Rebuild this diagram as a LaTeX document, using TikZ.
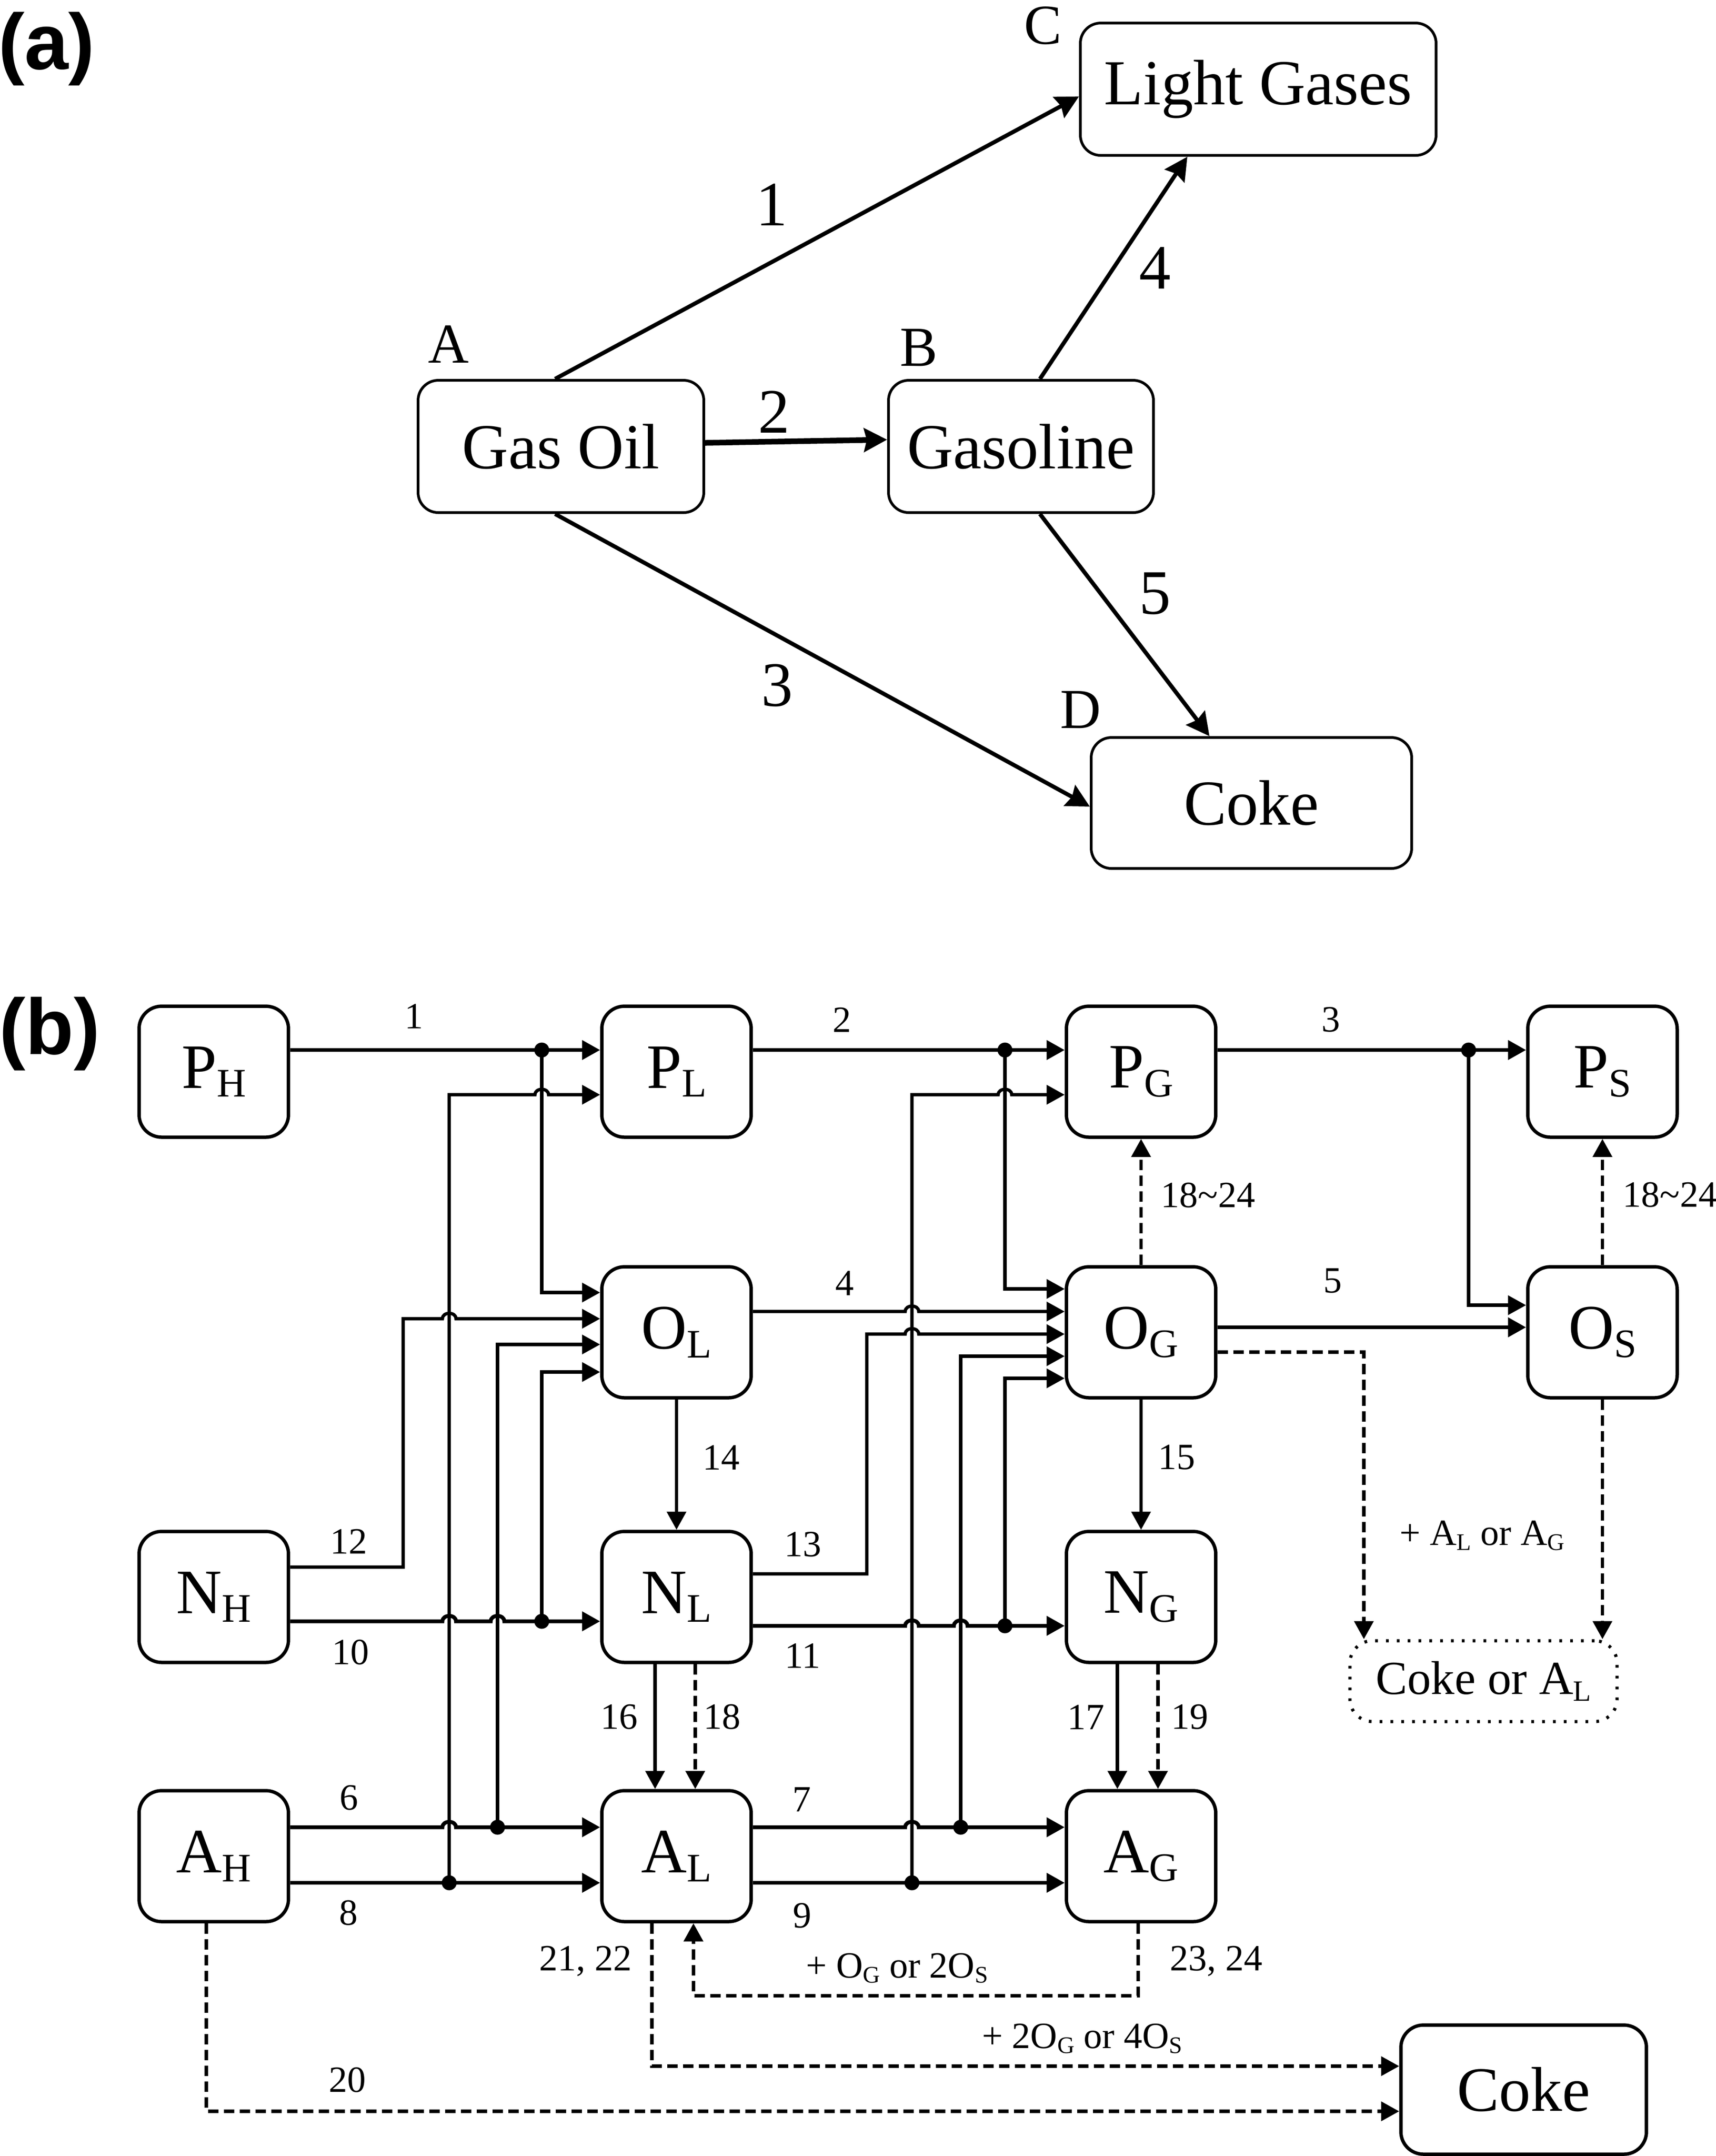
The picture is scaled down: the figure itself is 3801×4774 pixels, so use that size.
\documentclass[tikz,border=0pt]{standalone}
\usepackage{fontspec}
\setmainfont{Liberation Serif}
\newfontfamily\hdfont{Liberation Sans}
\usepackage{graphicx}
\usetikzlibrary{arrows.meta}
\newcommand\sbx[2][0.64]{\raisebox{-0.14em}{\scalebox{#1}{#2}}}
\newcommand\jmp[2]{-- (#1-15,#2) .. controls (#1-15,#2-16) and (#1+15,#2-16) .. (#1+15,#2)}
\tikzset{
 boxa/.style={draw, line width=0.6pt, rounded corners=4.5pt, minimum height=29.3pt, inner sep=0pt, font=\fontsize{14.2}{16}\selectfont},
 boxb/.style={draw, line width=0.75pt, rounded corners=5pt, minimum width=33.1pt, minimum height=29pt, inner sep=0pt, font=\fontsize{14}{16}\selectfont},
 lbla/.style={font=\fontsize{14}{16}\selectfont, inner sep=0pt},
 lett/.style={font=\fontsize{12.5}{14}\selectfont, inner sep=0pt},
 lblb/.style={font=\fontsize{8.2}{10}\selectfont, inner sep=0pt},
 jdot/.style={circle, fill, inner sep=0pt, minimum size=3.3pt},
 thk/.style={line width=0.85pt},
 thn/.style={line width=0.72pt},
 dsh/.style={line width=0.75pt, dash pattern=on 2.3pt off 1.2pt},
 tipb/.style={-{Triangle[length=4pt,width=4.2pt]}},
 tipa/.style={-{Stealth[length=5.1pt,width=5.2pt,inset=0.6pt]}},
 edgea/.style={line width=0.9pt, tipa},
 hd/.style={font=\hdfont\bfseries\fontsize{17.5}{20}\selectfont, inner sep=0pt},
}
\begin{document}
\begin{tikzpicture}[x=0.1pt,y=-0.1pt]
\useasboundingbox (0,0) rectangle (3801,4774);
% ---------------- (a)
\node[hd] (ta) at (103,108) {(a)};
\node[boxa, minimum width=63.3pt] (GO) at (1242.5,988.5) {Gas Oil};
\node[boxa, minimum width=58.7pt] (GS) at (2261.5,988.5) {Gasoline};
\node[boxa, minimum width=78.8pt] (LG) at (2787,197.5) {Light Gases};
\node[boxa, minimum width=71pt, minimum height=29pt] (CK) at (2772,1778) {Coke};
\node[lett] (la) at (994,762) {A};
\node[lett] (lb) at (2035,770) {B};
\node[lett] (lc) at (2310,57) {C};
\node[lett] (ld) at (2394,1572) {D};
\draw[edgea] ([xshift=-1.3pt]GO.north) -- ([yshift=-1.6pt]LG.west);
\draw[edgea, line width=1.25pt] ([yshift=0.8pt]GO.east) -- ([yshift=1.5pt]GS.west);
\draw[edgea] ([xshift=-1.3pt]GO.south) -- ([yshift=-0.8pt]CK.west);
\draw[edgea] ([xshift=4.2pt]GS.north) -- ([xshift=-15.7pt]LG.south);
\draw[edgea] ([xshift=4.2pt]GS.south) -- ([xshift=-9.3pt]CK.north);
\node[lbla] (e1) at (1709,453) {1};
\node[lbla] (e2) at (1714,912) {2};
\node[lbla] (e3) at (1721,1518) {3};
\node[lbla] (e4) at (2558,593) {4};
\node[lbla] (e5) at (2558,1314) {5};
% ---------------- (b)
\node[hd] (tb) at (110,2289) {(b)};
\node[boxb] (PH) at (473.5,2373) {P\sbx{H}};
\node[boxb] (PL) at (1498.5,2373) {P\sbx{L}};
\node[boxb] (PG) at (2527.5,2373) {P\sbx{G}};
\node[boxb] (PS) at (3549.5,2373) {P\sbx{S}};
\node[boxb] (OL) at (1498.5,2950) {O\sbx{L}};
\node[boxb] (OG) at (2527.5,2950) {O\sbx{G}};
\node[boxb] (OS) at (3549.5,2950) {O\sbx{S}};
\node[boxb] (NH) at (473.5,3536) {N\sbx{H}};
\node[boxb] (NL) at (1498.5,3536) {N\sbx{L}};
\node[boxb] (NG) at (2527.5,3536) {N\sbx{G}};
\node[boxb] (AH) at (473.5,4110) {A\sbx{H}};
\node[boxb] (AL) at (1498.5,4110) {A\sbx{L}};
\node[boxb] (AG) at (2527.5,4110) {A\sbx{G}};
\node[boxb, minimum width=54.4pt, minimum height=28.6pt] (CKb) at (3375,4627) {Coke};
\node[draw, line width=0.7pt, dash pattern=on 0.6pt off 1.8pt, rounded corners=5pt, minimum width=59.2pt, minimum height=17.9pt, inner sep=0pt, font=\fontsize{10.5}{12}\selectfont] (CA) at (3286,3722.5) {Coke or A\sbx[0.62]{L}};
% dots
\node[jdot] (d1) at (1200,2325) {};
\node[jdot] (d2) at (2226,2325) {};
\node[jdot] (d3) at (3253,2325) {};
\node[jdot] (d10) at (1200,3590) {};
\node[jdot] (d11) at (2226,3600) {};
\node[jdot] (d6) at (1102,4046) {};
\node[jdot] (d7) at (2128,4046) {};
\node[jdot] (d8) at (995,4169) {};
\node[jdot] (d9) at (2020,4169) {};
% main horizontal flows
\draw[thk,tipb] ([yshift=4.8pt]PH.east) -- ([yshift=4.8pt]PL.west);
\draw[thk,tipb] ([yshift=4.8pt]PL.east) -- ([yshift=4.8pt]PG.west);
\draw[thk,tipb] ([yshift=4.8pt]PG.east) -- ([yshift=4.8pt]PS.west);
\draw[thn,tipb] ([yshift=4.6pt]OL.east) \jmp{2020}{2904} -- ([yshift=4.6pt]OG.west);
\draw[thk,tipb] ([yshift=1.1pt]OG.east) -- ([yshift=1.1pt]OS.west);
\draw[thk,tipb] ([yshift=-5.4pt]NH.east) \jmp{995}{3590} \jmp{1102}{3590} -- ([yshift=-5.4pt]NL.west);
\draw[thk,tipb] ([yshift=-6.4pt]NL.east) \jmp{2020}{3600} \jmp{2128}{3600} -- ([yshift=-6.4pt]NG.west);
\draw[thk,tipb] ([yshift=6.4pt]AH.east) \jmp{995}{4046} -- ([yshift=6.4pt]AL.west);
\draw[thk,tipb] ([yshift=6.4pt]AL.east) \jmp{2020}{4046} -- ([yshift=6.4pt]AG.west);
\draw[thk,tipb] ([yshift=-5.9pt]AH.east) -- ([yshift=-5.9pt]AL.west);
\draw[thk,tipb] ([yshift=-5.9pt]AL.east) -- ([yshift=-5.9pt]AG.west);
% routed lines
\draw[thn,tipb] ([yshift=6.6pt]NH.east) -| (893,2920) \jmp{995}{2920} -- ([yshift=3pt]OL.west);
\draw[thn,tipb] ([yshift=5.1pt]NL.east) -| (1920,2954) \jmp{2020}{2954} -- ([yshift=-0.4pt]OG.west);
% branches from dots
\draw[thn,tipb] (d1.center) |- ([yshift=8.8pt]OL.west);
\draw[thn,tipb] (d10.center) |- ([yshift=-8.8pt]OL.west);
\draw[thn,tipb] (d6.center) |- ([yshift=-2.7pt]OL.west);
\draw[thn,tipb] (d8.center) -- (995,2424) \jmp{1200}{2424} -- ([yshift=-5.1pt]PL.west);
\draw[thn,tipb] (d2.center) |- ([yshift=9.6pt]OG.west);
\draw[thn,tipb] (d11.center) |- ([yshift=-10.2pt]OG.west);
\draw[thn,tipb] (d7.center) |- ([yshift=-5.3pt]OG.west);
\draw[thn,tipb] (d9.center) -- (2020,2424) \jmp{2226}{2424} -- ([yshift=-5.1pt]PG.west);
\draw[thn,tipb] (d3.center) |- ([yshift=6pt]OS.west);
% vertical flows
\draw[thn,tipb] (OL.south) -- (NL.north);
\draw[thn,tipb] (OG.south) -- (NG.north);
\draw[thn,tipb] ([xshift=-4.75pt]NL.south) -- ([xshift=-4.75pt]AL.north);
\draw[dsh,tipb] ([xshift=4.15pt]NL.south) -- ([xshift=4.15pt]AL.north);
\draw[thn,tipb] ([xshift=-5.25pt]NG.south) -- ([xshift=-5.25pt]AG.north);
\draw[dsh,tipb] ([xshift=3.75pt]NG.south) -- ([xshift=3.75pt]AG.north);
\draw[dsh,tipb] (OG.north) -- (PG.south);
\draw[dsh,tipb] (OS.north) -- (PS.south);
\draw[dsh,tipb] ([yshift=-4.4pt]OG.east) -| ([xshift=-26.5pt]CA.north);
\draw[dsh,tipb] (OS.south) -- (OS.south |- CA.north);
% bottom dashed
\draw[dsh,tipb] ([xshift=-1.65pt]AH.south) |- ([yshift=-4.8pt]CKb.west);
\draw[dsh,tipb] ([xshift=-5.45pt]AL.south) |- ([yshift=5.2pt]CKb.west);
\draw[dsh,tipb] ([xshift=-0.65pt]AG.south) -- (2521,4419) -- (1536,4419) -- ([xshift=3.75pt]AL.south);
% labels (b)
\node[lblb] (n1) at (917,2250) {1};
\node[lblb] (n2) at (1865,2258) {2};
\node[lblb] (n3) at (2948,2258) {3};
\node[lblb] (n4) at (1871,2841) {4};
\node[lblb] (n5) at (2952,2836) {5};
\node[lblb] (n1824a) at (2676,2647) {18\textasciitilde 24};
\node[lblb] (n1824b) at (3699,2646) {18\textasciitilde 24};
\node[lblb] (n14) at (1597,3227) {14};
\node[lblb] (n15) at (2606,3227) {15};
\node[lblb] (n12) at (772,3413) {12};
\node[lblb] (n13) at (1778,3420) {13};
\node[lblb] (n10) at (776,3659) {10};
\node[lblb] (n11) at (1778,3666) {11};
\node[lblb] (n16) at (1371,3802) {16};
\node[lblb] (n18) at (1599,3802) {18};
\node[lblb] (n17) at (2405,3802) {17};
\node[lblb] (n19) at (2635,3802) {19};
\node[lblb] (n6) at (773,3981) {6};
\node[lblb] (n7) at (1776,3985) {7};
\node[lblb] (n8) at (772,4236) {8};
\node[lblb] (n9) at (1777,4242) {9};
\node[lblb] (n2122) at (1297,4343) {21, 22};
\node[lblb] (n2324) at (2694,4343) {23, 24};
\node[lblb] (nog) at (1987,4358) {+ O\sbx{G} or 2O\sbx{S}};
\node[lblb] (n2og) at (2397,4514) {+ 2O\sbx{G} or 4O\sbx{S}};
\node[lblb] (n20) at (769,4606) {20};
\node[lblb] (nal) at (3283,3400) {+ A\sbx{L} or A\sbx{G}};
\end{tikzpicture}
\end{document}
